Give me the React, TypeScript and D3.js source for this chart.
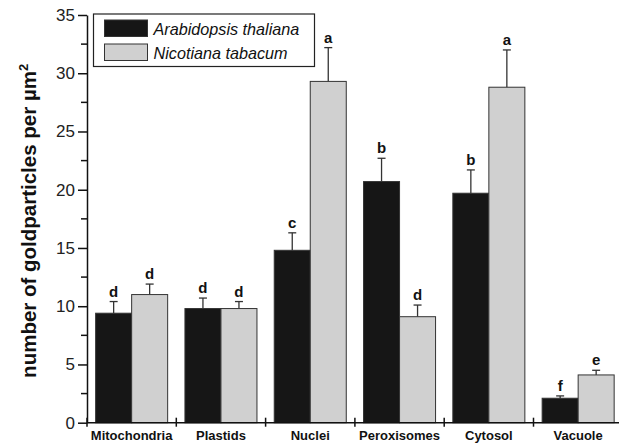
import { useEffect, useRef } from "react";
import * as d3 from "d3";

const categories = ["Mitochondria", "Plastids", "Nuclei", "Peroxisomes", "Cytosol", "Vacuole"];
const series = ["Arabidopsis thaliana", "Nicotiana tabacum"];
const arabidopsis = [9.4, 9.8, 14.8, 20.7, 19.7, 2.1];
const arabidopsisErr = [1.0, 0.9, 1.5, 2.0, 2.0, 0.2];
const nicotiana = [11.0, 9.8, 29.3, 9.1, 28.8, 4.1];
const nicotianaErr = [0.9, 0.6, 2.9, 1.0, 3.2, 0.4];
const arabidopsisLetters = ["d", "d", "c", "b", "b", "f"];
const nicotianaLetters = ["d", "d", "a", "d", "a", "e"];
const yTicks = [0, 5, 10, 15, 20, 25, 30, 35];
const yMinorTicks = [2.5, 7.5, 12.5, 17.5, 22.5, 27.5, 32.5];

const colors = ["#161616", "#d0d0d0"];

export default function App() {
  const svgRef = useRef<SVGSVGElement | null>(null);

  useEffect(() => {
    if (!svgRef.current) return;
    const W = 619;
    const H = 444;
    const left = 87;
    const bottom = 422.7;
    const top = 15;
    const font = "'Liberation Sans', Arial, sans-serif";

    d3.select(svgRef.current).selectAll("*").remove();
    const svg = d3.select(svgRef.current).attr("width", W).attr("height", H);

    const x = d3
      .scaleBand<string>()
      .domain(categories)
      .range([left, left + 6 * 89.3])
      .paddingInner(0)
      .paddingOuter(0);

    const xs = d3
      .scaleBand<string>()
      .domain(series)
      .range([0, x.bandwidth()])
      .paddingInner(0)
      .paddingOuter(0.24);

    const y = d3.scaleLinear().domain([0, 35]).range([bottom, top]);

    const rows = categories.map((c, i) => ({
      cat: c,
      vals: [
        { s: series[0], v: arabidopsis[i], e: arabidopsisErr[i], l: arabidopsisLetters[i] },
        { s: series[1], v: nicotiana[i], e: nicotianaErr[i], l: nicotianaLetters[i] },
      ],
    }));

    const g = svg
      .selectAll("g.cat")
      .data(rows)
      .enter()
      .append("g")
      .attr("transform", (d) => `translate(${x(d.cat)},0)`);

    const bar = g
      .selectAll("g.bar")
      .data((d) => d.vals)
      .enter()
      .append("g");

    // error bars first, behind the bars
    bar
      .append("line")
      .attr("x1", (d) => xs(d.s)! + xs.bandwidth() / 2)
      .attr("x2", (d) => xs(d.s)! + xs.bandwidth() / 2)
      .attr("y1", (d) => y(d.v))
      .attr("y2", (d) => y(d.v + d.e))
      .attr("stroke", "#333")
      .attr("stroke-width", 1.3);

    bar
      .append("line")
      .attr("x1", (d) => xs(d.s)! + xs.bandwidth() / 2 - 4)
      .attr("x2", (d) => xs(d.s)! + xs.bandwidth() / 2 + 4)
      .attr("y1", (d) => y(d.v + d.e))
      .attr("y2", (d) => y(d.v + d.e))
      .attr("stroke", "#333")
      .attr("stroke-width", 1.3);

    bar
      .append("rect")
      .attr("x", (d) => xs(d.s)!)
      .attr("y", (d) => y(d.v))
      .attr("width", xs.bandwidth())
      .attr("height", (d) => bottom - y(d.v))
      .attr("fill", (d, i) => colors[i])
      .attr("stroke", "#333")
      .attr("stroke-width", 1);

    bar
      .append("text")
      .attr("x", (d) => xs(d.s)! + xs.bandwidth() / 2)
      .attr("y", (d) => y(d.v + d.e) - 5)
      .attr("text-anchor", "middle")
      .attr("font-family", font)
      .attr("font-weight", "bold")
      .attr("font-size", 15)
      .attr("fill", "#111")
      .text((d) => d.l);

    // y axis
    const yAxis = svg
      .append("g")
      .attr("transform", `translate(${left},0)`)
      .call(d3.axisLeft(y).tickValues(yTicks).tickSize(9).tickSizeOuter(0).tickPadding(3));
    yAxis.selectAll("text").attr("font-family", font).attr("font-size", 17).attr("fill", "#222");
    yAxis.selectAll("line, path").attr("stroke", "#111").attr("stroke-width", 1.5);

    svg
      .append("g")
      .selectAll("line")
      .data(yMinorTicks)
      .enter()
      .append("line")
      .attr("x1", left - 6)
      .attr("x2", left)
      .attr("y1", (d) => y(d))
      .attr("y2", (d) => y(d))
      .attr("stroke", "#111")
      .attr("stroke-width", 1.5);

    // x axis
    svg
      .append("line")
      .attr("x1", left)
      .attr("x2", W)
      .attr("y1", bottom)
      .attr("y2", bottom)
      .attr("stroke", "#111")
      .attr("stroke-width", 1.5);

    svg
      .append("g")
      .selectAll("line")
      .data(categories)
      .enter()
      .append("line")
      .attr("x1", (d) => x(d)!)
      .attr("x2", (d) => x(d)!)
      .attr("y1", bottom - 5)
      .attr("y2", bottom + 4)
      .attr("stroke", "#111")
      .attr("stroke-width", 1.5);

    svg
      .append("g")
      .selectAll("text")
      .data(categories)
      .enter()
      .append("text")
      .attr("x", (d) => x(d)! + x.bandwidth() / 2)
      .attr("y", 440)
      .attr("text-anchor", "middle")
      .attr("font-family", font)
      .attr("font-weight", "bold")
      .attr("font-size", 13)
      .attr("fill", "#111")
      .text((d) => d);

    // y title
    const title = svg
      .append("text")
      .attr("transform", `translate(36,${(top + bottom) / 2 + 2}) rotate(-90)`)
      .attr("text-anchor", "middle")
      .attr("font-family", font)
      .attr("font-weight", "bold")
      .attr("font-size", 20.5)
      .attr("fill", "#111");
    title.append("tspan").text("number of goldparticles per µm");
    title.append("tspan").attr("font-size", 13).attr("dy", -8).text("2");

    // legend
    const lg = svg.append("g");
    lg.append("rect")
      .attr("x", 93.5)
      .attr("y", 14)
      .attr("width", 221)
      .attr("height", 52.5)
      .attr("fill", "#fff")
      .attr("stroke", "#222")
      .attr("stroke-width", 1.2);
    series.forEach((s, i) => {
      lg.append("rect")
        .attr("x", 104.5)
        .attr("y", 20 + i * 24)
        .attr("width", 43)
        .attr("height", 16.5)
        .attr("fill", colors[i])
        .attr("stroke", "#333")
        .attr("stroke-width", 1);
      lg.append("text")
        .attr("x", 153.5)
        .attr("y", 34.5 + i * 24)
        .attr("font-family", font)
        .attr("font-style", "italic")
        .attr("font-size", 16.2)
        .attr("fill", "#111")
        .text(s);
    });
  }, []);

  return <svg ref={svgRef} style={{ position: "absolute", left: 0, top: 0 }} />;
}
